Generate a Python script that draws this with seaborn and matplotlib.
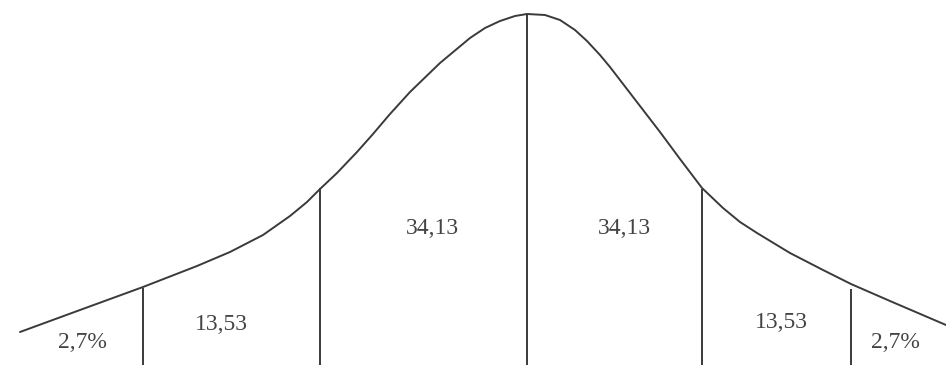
import matplotlib
matplotlib.use("Agg")
import matplotlib.pyplot as plt
import pandas as pd
import seaborn as sns

# curve: x position and height above the bottom edge (px)
curve_x = [20, 80, 143, 197, 230, 263, 290, 307, 320, 337, 357, 373, 390, 410, 440,
           470, 485, 500, 515, 527, 545, 560, 575, 587, 600, 610, 640, 660, 680, 702,
           723, 740, 757, 790, 823, 851, 890, 946]
curve_h = [33, 55, 78, 99, 113, 130, 149, 163, 176, 192, 213, 231, 251, 273, 302,
           327, 337, 344, 349, 351, 350, 345, 335, 324, 310, 298, 259, 233, 206, 177,
           157, 143, 132, 112, 95, 81, 64, 40]

# dividing lines: position and top height
div_x = [143, 320, 527, 702, 851]
div_h = [77, 177, 351, 176, 76]

# area labels
labels = ["2,7%", "13,53", "34,13", "34,13", "13,53", "2,7%"]
label_x = [82, 221, 432, 624, 781, 895]
label_h = [22, 41, 136, 136, 42, 22]

df = pd.DataFrame({"x": curve_x, "h": curve_h})

sns.set_style("white")
fig = plt.figure(figsize=(9.46, 3.65), dpi=100)
ax = fig.add_axes([0, 0, 1, 1])

line_col = "#3a3a3a"
sns.lineplot(data=df, x="x", y="h", ax=ax, color=line_col, linewidth=1.4,
             sort=False, estimator=None)
ax.vlines(div_x, 0, div_h, color=line_col, linewidth=1.4)

for t, x, h in zip(labels, label_x, label_h):
    ax.text(x, h, t, fontsize=17, color="#444444", ha="center", va="center",
            family="Liberation Serif")

ax.set_xlim(0, 946)
ax.set_ylim(0, 365)
ax.set_axis_off()

fig.savefig("out.png", dpi=100)
